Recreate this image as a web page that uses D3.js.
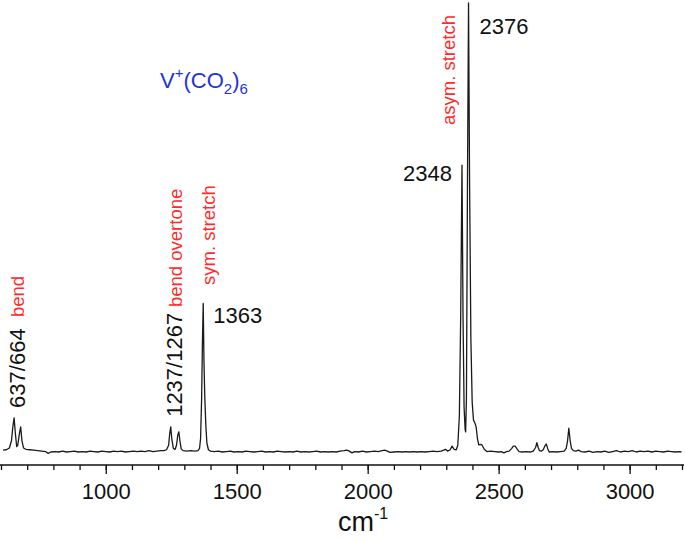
<!DOCTYPE html>
<html>
<head>
<meta charset="utf-8">
<script src="https://cdn.jsdelivr.net/npm/d3@7"></script>
<style>
  body { margin: 0; background: #fff; }
  text { font-family: "Liberation Sans", Arial, sans-serif; }
</style>
</head>
<body>
<script>
// IR photodissociation spectrum of V+(CO2)6
// [wavenumber (cm-1), intensity (arb., % of strongest band)]
const spectrum = [
  [608, 0.4], [620, 0.5], [632, 0.9], [640, 2.5], [645, 5.5], [650, 7.6], [655, 4.0],
  [660, 1.2], [664, 1.5], [670, 4.0], [675, 5.6], [680, 2.5], [686, 0.9], [695, 0.6],
  [710, 0.5], [725, 0.4], [740, 0.3], [755, 0.2], [770, 0.1], [780, -0.3], [790, 0.0],
  [805, 0.1], [820, 0.0], [835, 0.2], [850, 0.0], [865, 0.1], [880, 0.2], [895, 0.0],
  [910, 0.1], [925, 0.0], [940, 0.2], [955, 0.1], [970, 0.0], [985, 0.2], [1000, 0.1],
  [1015, 0.0], [1030, 0.2], [1045, 0.1], [1060, 0.2], [1075, 0.0], [1090, 0.1], [1105, 0.2],
  [1120, 0.1], [1135, 0.2], [1150, 0.1], [1165, 0.3], [1180, 0.1], [1195, 0.2], [1210, 0.3],
  [1222, 0.3], [1232, 0.5], [1240, 1.5], [1244, 4.0], [1248, 5.6], [1252, 3.0], [1258, 0.8],
  [1265, 0.6], [1270, 1.5], [1275, 3.8], [1279, 4.5], [1283, 2.5], [1288, 0.7], [1295, 0.3],
  [1310, 0.2], [1325, 0.3], [1340, 0.2], [1352, 0.3], [1358, 0.8], [1362, 3.0], [1366, 12],
  [1369, 24], [1372, 33.1], [1375, 20], [1378, 12.3], [1382, 6.0], [1386, 2.0], [1392, 0.5],
  [1400, 0.2], [1415, 0.1], [1430, 0.2], [1445, 0.0], [1460, 0.1], [1475, 0.2], [1490, 0.0],
  [1505, 0.1], [1520, 0.0], [1535, 0.2], [1550, 0.1], [1565, 0.0], [1580, 0.1], [1595, 0.2],
  [1610, 0.0], [1625, 0.1], [1640, 0.0], [1655, 0.2], [1670, 0.1], [1685, 0.0], [1700, 0.1],
  [1715, 0.0], [1730, 0.2], [1745, 0.0], [1760, 0.1], [1775, 0.0], [1790, 0.1], [1805, 0.2],
  [1820, 0.0], [1835, 0.1], [1850, 0.0], [1865, 0.1], [1880, 0.0], [1895, 0.2], [1910, 0.3],
  [1920, 0.4], [1930, 0.2], [1940, -0.2], [1950, 0.1], [1965, 0.0], [1980, 0.2], [1995, 0.0],
  [2010, 0.1], [2025, 0.2], [2040, 0.1], [2055, 0.3], [2065, 0.4], [2075, 0.2], [2085, -0.1],
  [2100, 0.0], [2115, 0.1], [2130, 0.0], [2145, 0.1], [2160, 0.0], [2175, 0.1], [2190, 0.0],
  [2205, 0.1], [2220, 0.0], [2235, 0.1], [2250, 0.2], [2265, 0.1], [2280, 0.2], [2290, 0.4],
  [2297, 0.6], [2305, 0.2], [2315, 0.5], [2322, 1.3], [2330, 0.6], [2338, 0.5], [2344, 1.5],
  [2350, 8], [2355, 30], [2360, 63.9], [2364, 30], [2368, 10], [2372, 5], [2374, 4.5],
  [2377, 12], [2381, 60], [2385, 100], [2389, 60], [2394, 25], [2399, 11], [2404, 7.1],
  [2409, 6.5], [2414, 5.6], [2419, 3.0], [2424, 1.6], [2430, 1.7], [2436, 1.6], [2445, 0.6],
  [2455, 0.1], [2470, 0.2], [2485, 0.1], [2500, 0.0], [2510, 0.1], [2520, -0.2], [2530, 0.1],
  [2540, 0.2], [2550, 0.8], [2556, 1.3], [2563, 1.3], [2570, 0.7], [2578, 0.1], [2590, 0.0],
  [2605, 0.1], [2620, 0.0], [2632, 0.2], [2641, 1.0], [2646, 2.1], [2651, 1.0], [2656, 0.3],
  [2663, 0.2], [2670, 0.5], [2676, 1.3], [2682, 1.8], [2687, 0.8], [2693, 0.0], [2705, 0.1],
  [2720, 0.0], [2735, 0.1], [2750, 0.2], [2758, 0.8], [2763, 2.5], [2768, 5.3], [2773, 2.5],
  [2778, 0.8], [2785, 0.3], [2795, 0.2], [2804, 0.4], [2815, 0.1], [2830, 0.0], [2845, 0.2],
  [2860, -0.1], [2875, 0.1], [2890, 0.0], [2905, 0.2], [2920, -0.1], [2935, 0.1], [2950, 0.3],
  [2965, 0.0], [2980, 0.2], [2995, 0.1], [3010, 0.3], [3025, 0.0], [3040, 0.2], [3055, 0.1],
  [3070, 0.2], [3085, 0.0], [3100, 0.2], [3115, 0.1], [3130, 0.0], [3145, 0.2], [3160, 0.1],
  [3175, 0.0], [3190, 0.1], [3198, 0.0]
];

const majorTicks = [1000, 1500, 2000, 2500, 3000];
const minorTicks = d3.range(600, 3201, 100);

// black peak positions, drawn next to the peak they belong to
const peakLabels = [
  { text: "2376", wn: 2385, level: 100 },
  { text: "2348", wn: 2360, level: 63.9 },
  { text: "1363", wn: 1372, level: 33.1 }
];
const pairLabels = [
  { text: "637/664", wn: 650, level: 7.6 },
  { text: "1237/1267", wn: 1248, level: 5.6 }
];
// red mode assignments (vertical)
const modeLabels = [
  { text: "bend", wn: 650 },
  { text: "bend overtone", wn: 1248 },
  { text: "sym. stretch", wn: 1372 },
  { text: "asym. stretch", wn: 2385 }
];

const width = 685,
      height = 540;

const x = d3.scaleLinear().domain([600, 3200]).range([1, 682]);
const y = d3.scaleLinear().domain([0, 100]).range([452, 3]);

const svg = d3.select("body").append("svg")
    .attr("width", width)
    .attr("height", height);

const axisY = 465;

// axis: minor ticks, then major ticks with labels
svg.append("g")
    .attr("transform", `translate(0,${axisY})`)
    .call(d3.axisBottom(x).tickValues(minorTicks).tickSize(5).tickFormat(""))
    .call(g => g.select(".domain").remove())
    .call(g => g.selectAll("line").attr("stroke", "#111").attr("stroke-width", 1.3));

svg.append("g")
    .attr("transform", `translate(0,${axisY})`)
    .call(d3.axisBottom(x).tickValues(majorTicks).tickSize(9).tickPadding(9).tickFormat(d3.format("d")))
    .call(g => g.select(".domain").remove())
    .call(g => g.selectAll("line").attr("stroke", "#111").attr("stroke-width", 1.3))
    .call(g => g.selectAll("text")
        .attr("fill", "#111")
        .style("font-size", "22px")
        .style("font-family", "'Liberation Sans', Arial, sans-serif"));

svg.append("line")
    .attr("x1", 0).attr("x2", 684)
    .attr("y1", axisY).attr("y2", axisY)
    .attr("stroke", "#111")
    .attr("stroke-width", 1.6);

// axis title cm^-1
const xt = svg.append("text")
    .attr("x", 338).attr("y", 531)
    .attr("fill", "#111")
    .style("font-size", "27px");
xt.append("tspan").text("cm");
xt.append("tspan").attr("dy", -12).style("font-size", "16px").text("-1");

// spectrum trace
const line = d3.line()
    .x(d => x(d[0]))
    .y(d => y(d[1]));

svg.append("path")
    .datum(spectrum)
    .attr("fill", "none")
    .attr("stroke", "#1a1a1a")
    .attr("stroke-width", 1.3)
    .attr("stroke-linejoin", "round")
    .attr("d", line);

// title V+(CO2)6
const title = svg.append("text")
    .attr("x", 160).attr("y", 88)
    .attr("fill", "#2233dd")
    .style("font-size", "22px");
title.append("tspan").text("V");
title.append("tspan").attr("dy", -10).style("font-size", "15px").text("+");
title.append("tspan").attr("dy", 10).text("(CO");
title.append("tspan").attr("dy", 6).style("font-size", "15px").text("2");
title.append("tspan").attr("dy", -6).text(")");
title.append("tspan").attr("dy", 6).style("font-size", "15px").text("6");

// horizontal peak labels
const peakOffset = { "2376": [11, 31, "start"], "2348": [-10, 16, "end"], "1363": [10, 20, "start"] };
svg.selectAll(".peak")
  .data(peakLabels)
  .join("text")
    .attr("class", "peak")
    .attr("x", d => x(d.wn) + peakOffset[d.text][0])
    .attr("y", d => y(d.level) + peakOffset[d.text][1])
    .attr("text-anchor", d => peakOffset[d.text][2])
    .attr("fill", "#111")
    .style("font-size", "22px")
    .text(d => d.text);

// vertical pair labels above the doublets
svg.selectAll(".pair")
  .data(pairLabels)
  .join("text")
    .attr("class", "pair")
    .attr("transform", d => `translate(${x(d.wn) + 11},${y(d.level) - 10}) rotate(-90)`)
    .attr("fill", "#111")
    .style("font-size", "22px")
    .text(d => d.text);

// red mode labels
const modeAnchor = {
  "bend": [10, 317],
  "bend overtone": [11, 307],
  "sym. stretch": [12, 285],
  "asym. stretch": [-14, 125]
};
svg.selectAll(".mode")
  .data(modeLabels)
  .join("text")
    .attr("class", "mode")
    .attr("transform", d => `translate(${x(d.wn) + modeAnchor[d.text][0]},${modeAnchor[d.text][1]}) rotate(-90)`)
    .attr("fill", "#ff2a2a")
    .style("font-size", "18.5px")
    .text(d => d.text);
</script>
</body>
</html>
